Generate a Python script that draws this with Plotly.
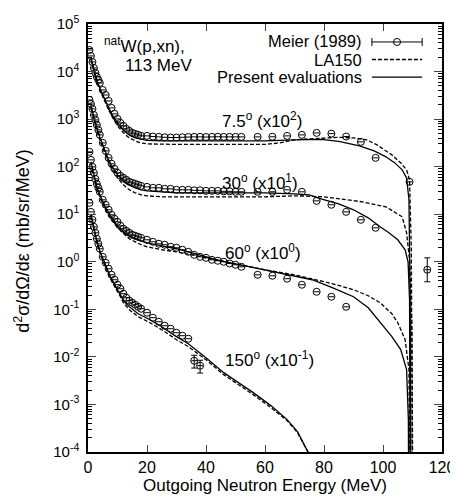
import plotly.graph_objects as go

# ---------------- data (raw cross sections, mb/sr/MeV) ----------------
E_low = [0.5, 1, 1.5, 2, 2.5, 3, 3.5, 4, 5, 6, 7, 8, 9, 10, 11, 12, 13, 14, 15, 16, 17, 18,
         20, 22, 24, 26, 28, 30, 32, 34, 36, 38, 40, 42, 44, 46, 48, 50, 52]
E_high = [57.5, 62.5, 67.5, 72.5, 77.5, 82.5, 87.5, 92.5, 97.5]

exp_075_low = [284, 213, 159, 119, 93.5, 77.1, 66.7, 57.6, 41.0, 32.2, 24.1, 17.2, 12.9, 10.1, 8.32, 7.2,
               6.22, 5.65, 5.13, 4.89, 4.66, 4.44, 4.44, 4.3, 4.23, 4.15, 4.1, 4.1, 4.15, 4.2, 4.23, 4.23,
               4.2, 4.23, 4.25, 4.23, 4.23, 4.23, 4.23]
exp_075_high = [4.23, 4.25, 4.44, 4.66, 5.13, 4.95, 4.3, 3.32, 1.53]
exp_075_edge_E = [109]
exp_075_edge = [0.48]

exp_030_low = [253, 208, 164, 122, 96.2, 75.5, 59.3, 46.6, 31.6, 21.5, 15.3, 11.5, 9.0, 7.41, 6.41, 5.82,
               5.28, 4.80, 4.57, 4.35, 4.15, 3.95, 3.76, 3.59, 3.59, 3.42, 3.42, 3.26, 3.26, 3.26, 3.18,
               3.18, 3.10, 3.10, 3.10, 3.03, 3.03, 2.96, 2.96]
exp_030_high = [2.96, 2.96, 3.26, 2.96, 1.91, 1.58, 1.12, 0.763, 0.518]

exp_060_low = [205, 139, 99, 74.1, 55.4, 43.5, 35.9, 29.6, 20.1, 15.8, 12.4, 9.71, 8.0, 6.92, 5.70, 4.93,
               4.48, 4.07, 3.69, 3.52, 3.35, 3.19, 2.90, 2.63, 2.39, 2.28, 2.07, 1.97, 1.79, 1.62, 1.40,
               1.27, 1.21, 1.10, 1.05, 1.0, 0.92, 0.865, 0.785]
exp_060_high = [0.533, 0.508, 0.44, 0.329, 0.234, 0.184, 0.113]
exp_060_edge_E = [115]
exp_060_edge = [0.68]
exp_060_edge_err_plus = [0.53]
exp_060_edge_err_minus = [0.30]

exp_150_low = [173, 112, 76.3, 54.3, 40.7, 30.4, 23.9, 18.8, 12.7, 9.53, 7.13, 5.33, 4.19, 3.29, 2.71,
               2.13, 1.75, 1.52, 1.38, 1.25, 1.13, 1.03, 0.849, 0.666, 0.549, 0.452, 0.391, 0.322,
               0.279, 0.241]
exp_150_tail_E = [36, 38]
exp_150_tail = [0.0832, 0.0653]

E_bin_half = 1.0  # half width of energy bins (MeV)

# LA150 (dashed) and present evaluation (solid)
E_eval_075 = [1, 2, 3, 4, 5, 6, 7, 8, 9, 10, 12, 14, 16, 18, 20, 25, 30, 40, 50, 60, 70, 79, 85, 92,
              97, 101, 104, 106.5, 108, 108.8, 109.2, 109.5]
eval_075 = [193, 108, 66.7, 45.2, 32.2, 23.0, 17.2, 12.9, 10.1, 8.32, 5.93, 4.66, 4.03, 3.75, 3.57,
            3.48, 3.48, 3.48, 3.48, 3.48, 3.66, 3.75, 3.40, 2.73, 2.15, 1.61, 1.20, 0.857, 0.582,
            0.201, 0.00159, 1e-7]
E_la_075 = [1, 2, 3, 4, 5, 6, 7, 8, 9, 10, 12, 14, 16, 18, 20, 25, 30, 40, 50, 60, 65, 70, 75, 80, 85,
            90, 94.5, 98, 103, 106, 108, 109, 109.6, 110]
la_075 = [175, 98.1, 60.5, 41.0, 29.3, 20.8, 15.6, 11.7, 9.16, 7.20, 5.13, 4.03, 3.48, 3.16, 3.01,
          2.94, 2.94, 2.94, 2.94, 2.94, 3.16, 3.66, 3.84, 4.03, 4.13, 4.03, 3.66, 2.87, 1.77, 1.20,
          0.857, 0.528, 0.0179, 1e-7]

E_eval_030 = [1, 2, 3, 4, 5, 6, 7, 8, 9, 10, 12, 14, 16, 18, 20, 25, 30, 40, 50, 60, 70, 75, 79, 85,
              90, 95, 99, 102, 105, 107.5, 108.5, 109, 109.3]
eval_030 = [189, 106, 65.3, 42.3, 28.7, 19.5, 13.9, 10.4, 8.16, 6.73, 5.03, 4.15, 3.59, 3.26, 3.10,
            2.96, 2.82, 2.82, 2.82, 2.82, 2.68, 2.56, 2.11, 1.65, 1.24, 0.840, 0.543, 0.407, 0.290,
            0.179, 0.10, 0.0159, 1e-7]
E_la_030 = [1, 2, 3, 4, 5, 6, 7, 8, 9, 10, 12, 14, 16, 18, 20, 25, 30, 40, 50, 60, 70, 80, 93, 101,
            106.5, 108, 109, 109.8, 110.2]
la_030 = [172, 96.2, 56.5, 36.6, 24.8, 16.9, 12.0, 9.0, 7.06, 5.82, 4.15, 3.26, 2.82, 2.56, 2.44,
          2.32, 2.32, 2.32, 2.32, 2.32, 2.44, 2.32, 1.82, 1.43, 0.882, 0.407, 0.110, 0.00373, 1e-7]

E_eval_060 = [1, 2, 3, 4, 5, 6, 7, 8, 9, 10, 12, 14, 16, 18, 20, 25, 30, 35, 40, 45, 50, 60, 70, 76,
              83, 90, 95, 99, 103, 106, 108, 108.6, 108.9]
eval_060 = [126, 64.1, 37.6, 25.6, 18.2, 13.6, 10.7, 8.40, 6.92, 5.70, 4.27, 3.52, 3.04, 2.76, 2.51,
            2.17, 1.88, 1.55, 1.27, 1.05, 0.908, 0.679, 0.508, 0.419, 0.284, 0.184, 0.108, 0.0523,
            0.0266, 0.0142, 0.00538, 0.00048, 1e-8]
E_la_060 = [1, 2, 3, 4, 5, 6, 7, 8, 9, 10, 12, 14, 16, 18, 20, 25, 30, 35, 40, 45, 50, 60, 70, 76,
            83, 90, 95, 99, 103, 105, 107.5, 108.8, 109.5]
la_060 = [115, 58.2, 34.2, 23.2, 16.5, 12.4, 9.71, 7.63, 6.28, 5.18, 3.87, 3.04, 2.63, 2.28, 2.07,
          1.79, 1.62, 1.40, 1.21, 1.05, 0.908, 0.679, 0.533, 0.44, 0.345, 0.258, 0.193, 0.138,
          0.0809, 0.0523, 0.0230, 0.00538, 1e-8]

E_eval_150 = [1, 2, 3, 4, 5, 6, 7, 8, 9, 10, 11, 12, 14, 17, 21, 25, 30, 34, 40, 46, 56, 62, 67.5,
              71, 74.5, 77]
eval_150 = [102, 49.3, 27.6, 17.0, 11.6, 8.24, 5.87, 4.40, 3.29, 2.58, 2.03, 1.52, 1.13, 0.809,
            0.605, 0.431, 0.266, 0.189, 0.0962, 0.0466, 0.0177, 0.00944, 0.0048, 0.00268, 0.00102,
            0.000427]
E_la_150 = E_eval_150
la_150 = [92.5, 44.8, 25.1, 15.5, 10.5, 7.48, 5.33, 3.99, 2.98, 2.34, 1.84, 1.38, 0.982, 0.700,
          0.523, 0.373, 0.230, 0.164, 0.0873, 0.0423, 0.0161, 0.00857, 0.00457, 0.00256, 0.00102,
          0.000427]

scale_075, scale_030, scale_060, scale_150 = 1e2, 1e1, 1e0, 1e-1

y_tick_exps = [-4, -3, -2, -1, 0, 1, 2, 3, 4, 5]
x_ticks = [0, 20, 40, 60, 80, 100, 120]

# ---------------- figure ----------------
FONT = "Liberation Sans, Arial, sans-serif"
fig = go.Figure()

def sc(vals, s):
    return [v * s for v in vals]

def add_line(E, vals, s, dash):
    fig.add_trace(go.Scatter(x=E, y=sc(vals, s), mode="lines",
                             line=dict(color="black", width=1.3, dash=dash),
                             showlegend=False, hoverinfo="skip"))

for E, v, s in [(E_la_075, la_075, scale_075), (E_la_030, la_030, scale_030),
                (E_la_060, la_060, scale_060), (E_la_150, la_150, scale_150)]:
    add_line(E, v, s, "4px,2px")
for E, v, s in [(E_eval_075, eval_075, scale_075), (E_eval_030, eval_030, scale_030),
                (E_eval_060, eval_060, scale_060), (E_eval_150, eval_150, scale_150)]:
    add_line(E, v, s, "solid")

MARK = dict(symbol="circle-open", size=7, color="black", line=dict(width=1, color="black"))

def add_exp(E, vals, s, err_y=None):
    tr = go.Scatter(x=E, y=sc(vals, s), mode="markers", marker=MARK,
                    error_x=dict(type="constant", value=E_bin_half, width=0, thickness=1, color="black"),
                    showlegend=False, hoverinfo="skip")
    if err_y is not None:
        tr.error_y = err_y
    fig.add_trace(tr)

add_exp(E_low, exp_075_low, scale_075)
add_exp(E_high, exp_075_high, scale_075)
add_exp(exp_075_edge_E, exp_075_edge, scale_075)
add_exp(E_low, exp_030_low, scale_030)
add_exp(E_high, exp_030_high, scale_030)
add_exp(E_low, exp_060_low, scale_060)
add_exp(E_high[:len(exp_060_high)], exp_060_high, scale_060)
add_exp(exp_060_edge_E, exp_060_edge, scale_060,
        err_y=dict(type="data", array=sc(exp_060_edge_err_plus, scale_060),
                   arrayminus=sc(exp_060_edge_err_minus, scale_060),
                   width=3, thickness=1, color="black"))
add_exp(E_low[:len(exp_150_low)], exp_150_low, scale_150)
add_exp(exp_150_tail_E, exp_150_tail, scale_150,
        err_y=dict(type="percent", value=30, width=3, thickness=1, color="black"))

# legend sample for Meier symbol on an overlay axis (paper-like units)
fig.add_trace(go.Scatter(x=[0.873], y=[0.958], xaxis="x2", yaxis="y2", mode="markers", marker=MARK,
                         error_x=dict(type="constant", value=0.071, width=4, thickness=1, color="black"),
                         showlegend=False, hoverinfo="skip"))

axis_common = dict(showline=True, linecolor="black", linewidth=1.5, mirror="allticks",
                   ticks="inside", showgrid=False, zeroline=False, automargin=False)

# page body has an 8px margin in the browser, so the figure is 8px smaller than the window
fig.update_layout(
    width=450, height=495,
    margin=dict(l=80, r=16, t=16, b=51),
    plot_bgcolor="white", paper_bgcolor="white",
    font=dict(family=FONT, size=16, color="black"),
    xaxis=dict(range=[0, 120], tickmode="array", tickvals=x_ticks, ticklen=7,
               tickfont=dict(family=FONT, size=16, color="black"),
               title=dict(text="Outgoing Neutron Energy (MeV)", font=dict(family=FONT, size=17),
                          standoff=2),
               **axis_common),
    yaxis=dict(type="log", range=[-4, 5], tickmode="array",
               tickvals=[10.0 ** k for k in y_tick_exps],
               ticktext=["10<sup>%d</sup>" % k for k in y_tick_exps], ticklen=8,
               tickfont=dict(family=FONT, size=15, color="black"), ticklabelstandoff=4,
               minor=dict(ticks="inside", ticklen=4, tickcolor="black",
                          tickmode="array",
                          tickvals=[m * 10.0 ** k for k in range(-4, 5) for m in range(2, 10)]),
               **axis_common),
    xaxis2=dict(range=[0, 1], overlaying="x", visible=False, fixedrange=True),
    yaxis2=dict(range=[0, 1], overlaying="y", visible=False, fixedrange=True),
)

ann = []
def txt(s, x, y, xanchor="left", size=17, **kw):
    ann.append(dict(text=s, x=x, y=y, xref="paper", yref="paper", xanchor=xanchor, yanchor="middle",
                    showarrow=False, font=dict(family=FONT, size=size, color="black"), **kw))

txt("<sup>nat</sup>W(p,xn),", 0.040, 0.950)
txt("113 MeV", 0.099, 0.902)
txt("7.5<sup>o</sup> (x10<sup>2</sup>)", 0.373, 0.776)
txt("30<sup>o</sup> (x10<sup>1</sup>)", 0.373, 0.631)
txt("60<sup>o</sup> (x10<sup>0</sup>)", 0.380, 0.467)
txt("150<sup>o</sup> (x10<sup>-1</sup>)", 0.380, 0.218)
txt("Meier (1989)", 0.780, 0.960, xanchor="right", size=16.5)
txt("LA150", 0.780, 0.917, xanchor="right", size=16.5)
txt("Present evaluations", 0.780, 0.876, xanchor="right", size=16.5)
txt("d<sup>2</sup>σ/dΩ/dε (mb/sr/MeV)", -0.184, 0.493, xanchor="center", size=18, textangle=-90)
fig.update_layout(annotations=ann)

fig.add_shape(type="line", xref="paper", yref="paper", x0=0.802, x1=0.944, y0=0.917, y1=0.917,
              line=dict(color="black", width=1.3, dash="4px,2px"))
fig.add_shape(type="line", xref="paper", yref="paper", x0=0.802, x1=0.944, y0=0.876, y1=0.876,
              line=dict(color="black", width=1.3))

fig.write_html("out.html")
